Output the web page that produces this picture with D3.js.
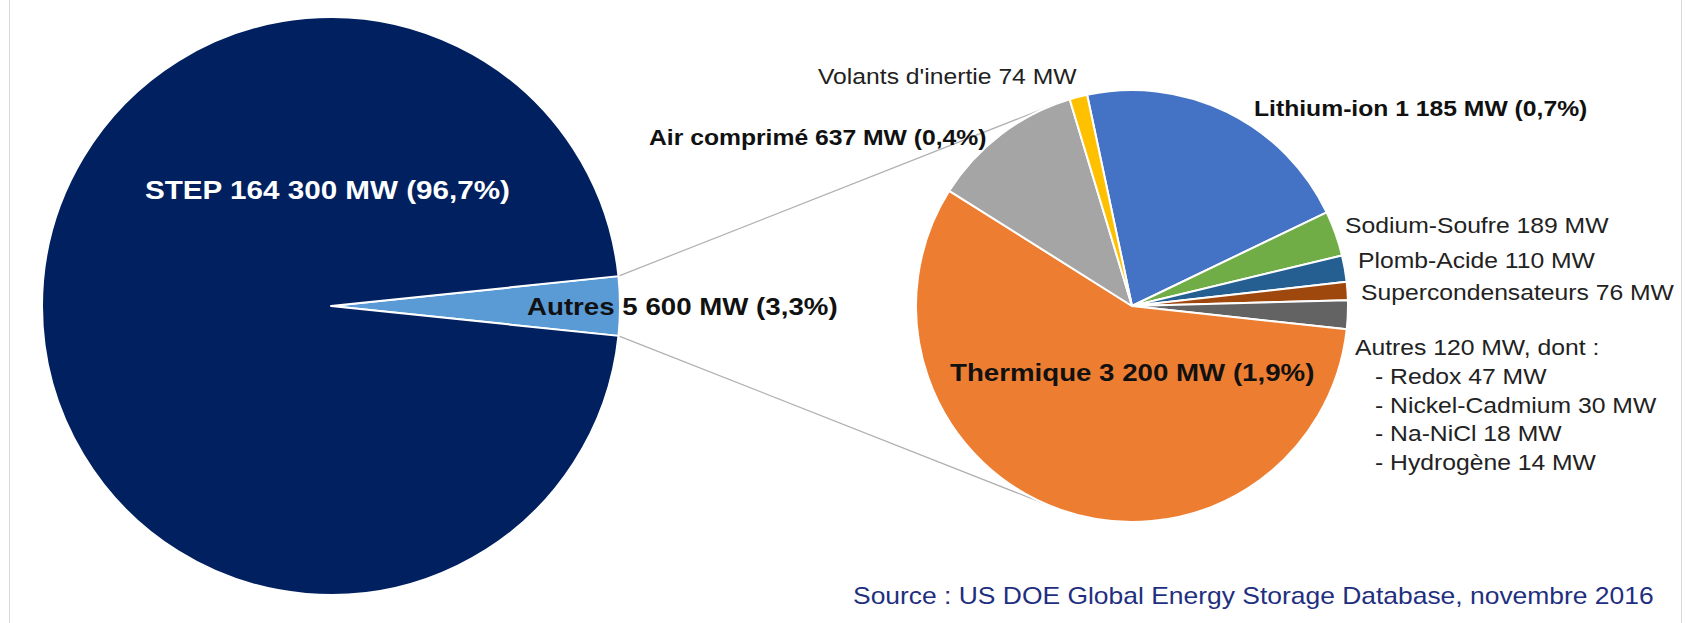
<!DOCTYPE html>
<html><head><meta charset="utf-8">
<script src="https://cdn.jsdelivr.net/npm/d3@7"></script>
<style>body{margin:0;background:#fff}svg{display:block}</style>
</head><body>
<script>
// ---------- DATA ----------
const mainCategories = ["Autres", "STEP"];
const mainValues = [5600, 164300];
const subCategories = ["Lithium-ion", "Sodium-Soufre", "Plomb-Acide", "Supercondensateurs", "Autres", "Thermique", "Air comprimé", "Volants d'inertie"];
const subValues = [1185, 189, 110, 76, 120, 3200, 637, 74];
const detailCategories = ["Redox", "Nickel-Cadmium", "Na-NiCl", "Hydrogène"];
const detailValues = [47, 30, 18, 14];
const sourceText = "Source : US DOE Global Energy Storage Database, novembre 2016";

// ---------- LAYOUT / STYLE ----------
const W = 1687, H = 623;
const mainPie = {cx: 331, cy: 306, r: 289};
const subPie = {cx: 1132, cy: 306, r: 216};
const subStartDeg = -12;
const font = "'Liberation Sans', Arial, Helvetica, sans-serif";
const mainColors = {"Autres": "#5b9bd5", "STEP": "#002060"};
const subColors = {
  "Lithium-ion": "#4472c4", "Sodium-Soufre": "#70ad47", "Plomb-Acide": "#255e91",
  "Supercondensateurs": "#9e480e", "Autres": "#636363", "Thermique": "#ed7d31",
  "Air comprimé": "#a5a5a5", "Volants d'inertie": "#ffc000"
};

const fr = d3.formatLocale({decimal: ",", thousands: " ", grouping: [3], currency: ["", " €"]});
const fmtInt = fr.format(",d");
const fmtPct = fr.format(".1%");
const total = d3.sum(mainValues);

const svg = d3.select("body").append("svg").attr("width", W).attr("height", H)
  .style("font-family", font);

// frame
svg.append("rect").attr("x", 9.5).attr("y", -2).attr("width", 1672).attr("height", H + 4)
  .attr("fill", "none").attr("stroke", "#d9d9d9").attr("stroke-width", 1);

// ---------- MAIN PIE ----------
const autresAngle = 2 * Math.PI * mainValues[0] / total;
const mainArcs = d3.pie().sort(null).value(d => d)
  .startAngle(Math.PI / 2 - autresAngle / 2)
  .endAngle(Math.PI / 2 - autresAngle / 2 + 2 * Math.PI)(mainValues);
const mainArc = d3.arc().innerRadius(0).outerRadius(mainPie.r);

// ---------- SUB PIE ----------
const s0 = subStartDeg * Math.PI / 180;
const subArcs = d3.pie().sort(null).value(d => d).startAngle(s0).endAngle(s0 + 2 * Math.PI)(subValues);
const subArc = d3.arc().innerRadius(0).outerRadius(subPie.r);

// ---------- CONNECTOR LINES (tangent from wedge ends to secondary pie) ----------
const wedge = mainArcs[0];
function polar(c, r, a) { return [c.cx + r * Math.sin(a), c.cy - r * Math.cos(a)]; }
function tangent(P, side) {
  const dx = P[0] - subPie.cx, dy = P[1] - subPie.cy;
  const d = Math.hypot(dx, dy), phi = Math.atan2(dy, dx), alpha = Math.acos(subPie.r / d);
  const a = phi + side * alpha;
  return [subPie.cx + subPie.r * Math.cos(a), subPie.cy + subPie.r * Math.sin(a)];
}
const pTop = polar(mainPie, mainPie.r, wedge.startAngle);
const pBot = polar(mainPie, mainPie.r, wedge.endAngle);
const connectors = [[pTop, tangent(pTop, 1)], [pBot, tangent(pBot, -1)]];
svg.append("g").selectAll("line").data(connectors).join("line")
  .attr("x1", d => d[0][0]).attr("y1", d => d[0][1])
  .attr("x2", d => d[1][0]).attr("y2", d => d[1][1])
  .attr("stroke", "#b0b0b0").attr("stroke-width", 1.2);

svg.append("g").attr("transform", `translate(${mainPie.cx},${mainPie.cy})`)
  .selectAll("path").data(mainArcs).join("path")
  .attr("d", mainArc)
  .attr("fill", (d, i) => mainColors[mainCategories[i]])
  .attr("stroke", "#fff").attr("stroke-width", 2).attr("stroke-linejoin", "round");

svg.append("g").attr("transform", `translate(${subPie.cx},${subPie.cy})`)
  .selectAll("path").data(subArcs).join("path")
  .attr("d", subArc)
  .attr("fill", (d, i) => subColors[subCategories[i]])
  .attr("stroke", "#fff").attr("stroke-width", 2).attr("stroke-linejoin", "round");

// ---------- LABELS ----------
const mainIdx = c => mainCategories.indexOf(c);
const subIdx = c => subCategories.indexOf(c);
const withPct = (name, v) => `${name} ${fmtInt(v)} MW (${fmtPct(v / total)})`;
const plain = (name, v) => `${name} ${fmtInt(v)} MW`;

const labels = [
  {text: withPct("STEP", mainValues[mainIdx("STEP")]), x: 145, y: 190, size: 26, sx: 1.14, weight: "bold", fill: "#ffffff"},
  {text: withPct("Autres", mainValues[mainIdx("Autres")]), x: 527, y: 306, size: 24.5, sx: 1.13, weight: "bold", fill: "#111"},
  {text: withPct("Thermique", subValues[subIdx("Thermique")]), x: 950, y: 372, size: 24.5, sx: 1.13, weight: "bold", fill: "#111"},
  {text: withPct("Air comprimé", subValues[subIdx("Air comprimé")]), x: 649, y: 137, size: 22, sx: 1.123, weight: "bold", fill: "#111"},
  {text: withPct("Lithium-ion", subValues[subIdx("Lithium-ion")]), x: 1254, y: 108, size: 22, sx: 1.123, weight: "bold", fill: "#111"},
  {text: plain("Volants d'inertie", subValues[subIdx("Volants d'inertie")]), x: 818, y: 76, size: 22, sx: 1.123, weight: "normal", fill: "#222"},
  {text: plain("Sodium-Soufre", subValues[subIdx("Sodium-Soufre")]), x: 1345, y: 225, size: 22, sx: 1.123, weight: "normal", fill: "#222"},
  {text: plain("Plomb-Acide", subValues[subIdx("Plomb-Acide")]), x: 1358, y: 260, size: 22, sx: 1.123, weight: "normal", fill: "#222"},
  {text: plain("Supercondensateurs", subValues[subIdx("Supercondensateurs")]), x: 1361, y: 292, size: 22, sx: 1.123, weight: "normal", fill: "#222"},
  {text: plain("Autres", subValues[subIdx("Autres")]) + ", dont :", x: 1355, y: 347, size: 22, sx: 1.123, weight: "normal", fill: "#222"},
  ...detailCategories.map((c, i) => ({text: "- " + plain(c, detailValues[i]), x: 1375, y: 376 + i * 28.7, size: 22, sx: 1.123, weight: "normal", fill: "#222"})),
  {text: sourceText, x: 853, y: 596, size: 23, sx: 1.15, weight: "normal", fill: "#1f2f80"}
];

svg.append("g").selectAll("text").data(labels).join("text")
  .attr("transform", d => `translate(${d.x},${d.y + 0.358 * d.size}) scale(${d.sx},1)`)
  .attr("font-size", d => d.size)
  .attr("font-weight", d => d.weight)
  .attr("fill", d => d.fill)
  .style("white-space", "pre")
  .text(d => d.text);
</script>
</body></html>
